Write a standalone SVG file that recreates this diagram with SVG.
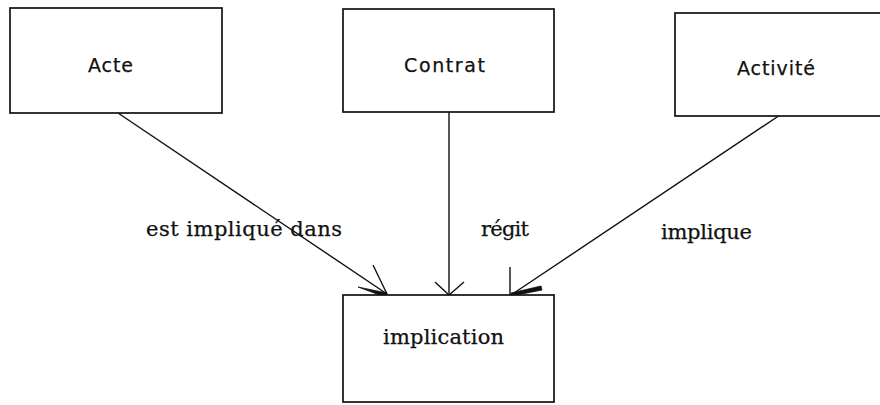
<svg xmlns="http://www.w3.org/2000/svg" width="880" height="405" viewBox="0 0 880 405">
  <style>
    .box { fill: #ffffff; stroke: #111111; stroke-width: 1.7; }
    .name { font-family: "DejaVu Sans", "Liberation Sans", sans-serif; font-size: 19px; fill: #111111; stroke: #111111; stroke-width: 0.25; }
    .rel { font-family: "DejaVu Serif", "Liberation Serif", serif; font-size: 21px; fill: #111111; stroke: #111111; stroke-width: 0.25; }
    .line { fill: none; stroke: #111111; stroke-width: 1.4; }
    .wedge { fill: #111111; stroke: #111111; stroke-width: 0.8; }
  </style>
  <rect width="880" height="405" fill="#ffffff"/>

  <!-- connectors -->
  <g id="connectors">
    <!-- Acte -> implication -->
    <path class="line" d="M118,113 L387,294"/>
    <path class="line" d="M373,265 L387,294"/>
    <polygon class="wedge" points="358,287 387,293 385,297"/>
    <!-- Contrat -> implication -->
    <path class="line" d="M449,112 L449,295"/>
    <path class="line" d="M435,282 L449,295 L464,282"/>
    <!-- Activité -> implication -->
    <path class="line" d="M780,115 L511,295"/>
    <path class="line" d="M510,267 L510,295"/>
    <polygon class="wedge" points="541,286 542,290 512,296 511,293"/>
  </g>

  <g id="acte">
    <rect class="box" x="10" y="8" width="212" height="105"/>
    <text class="name" x="88" y="72" textLength="45" lengthAdjust="spacing">Acte</text>
  </g>

  <g id="contrat">
    <rect class="box" x="343" y="9" width="211" height="103"/>
    <text class="name" x="404" y="72" textLength="81" lengthAdjust="spacing">Contrat</text>
  </g>

  <g id="activite">
    <rect class="box" x="675" y="13" width="215" height="103"/>
    <text class="name" x="737" y="75" textLength="78" lengthAdjust="spacing">Activité</text>
  </g>

  <g id="implication">
    <rect class="box" x="343" y="295" width="211" height="107"/>
    <text class="rel" x="383" y="344" textLength="121" lengthAdjust="spacing">implication</text>
  </g>

  <!-- relation labels -->
  <g id="labels">
    <text class="rel" x="146" y="236" textLength="196" lengthAdjust="spacing">est impliqué dans</text>
    <text class="rel" x="481" y="236" textLength="48" lengthAdjust="spacing">régit</text>
    <text class="rel" x="661" y="239" textLength="91" lengthAdjust="spacing">implique</text>
  </g>
</svg>
